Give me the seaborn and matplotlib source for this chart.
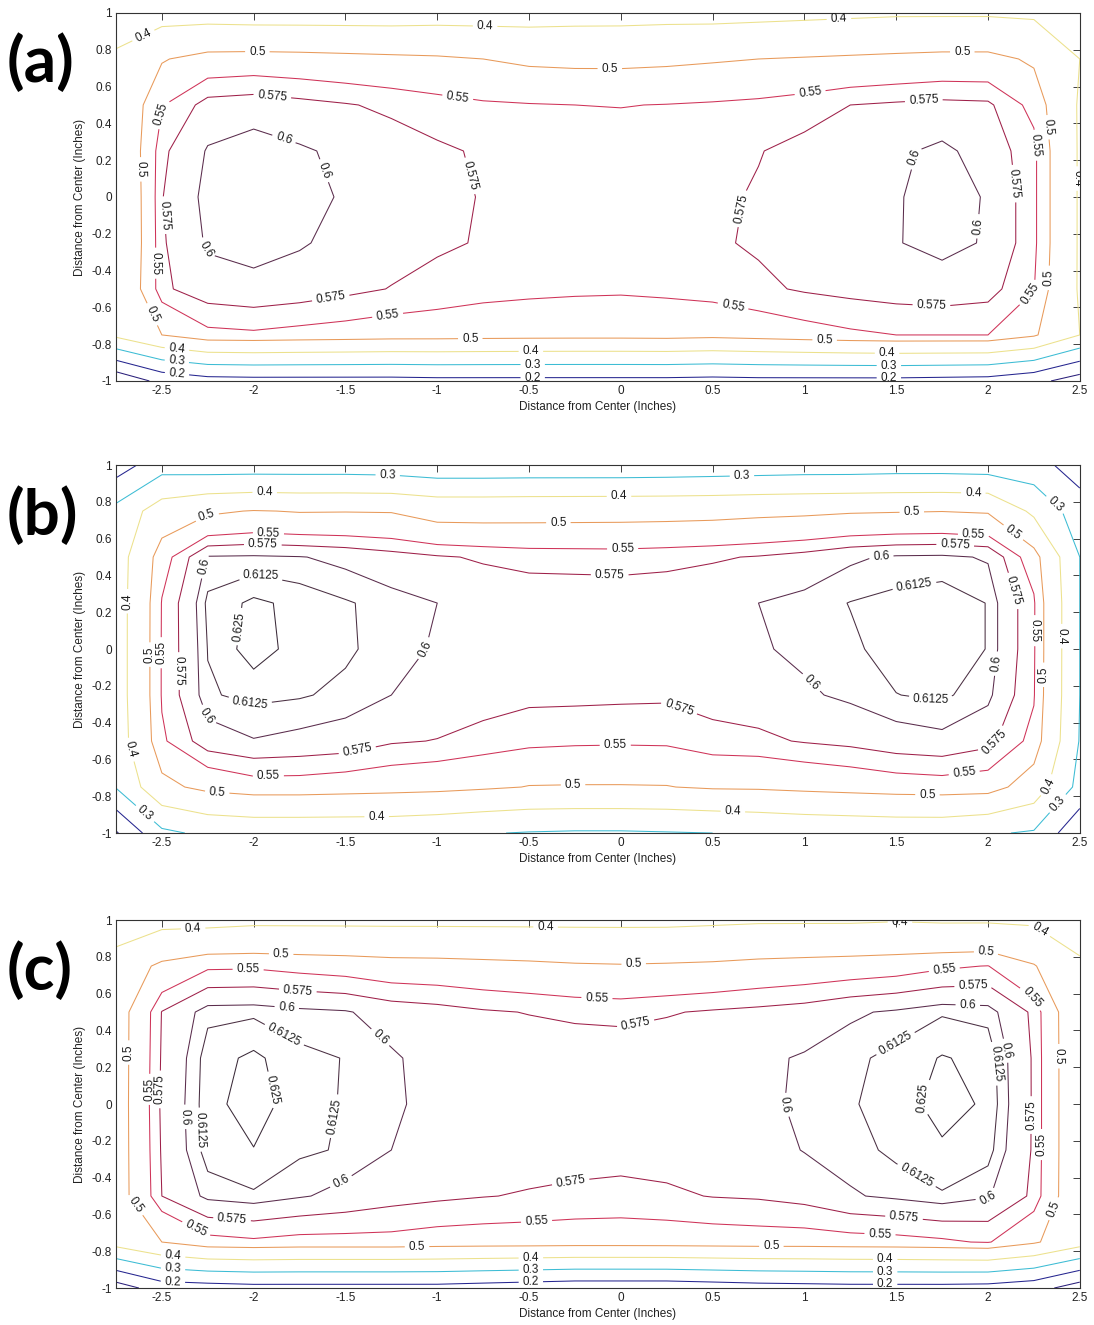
import numpy as np
import matplotlib
matplotlib.use("Agg")
import matplotlib.pyplot as plt
import seaborn as sns

# grid of measurement positions (inches)
x_in = [-2.75, -2.5, -2.25, -2.0, -1.75, -1.5, -1.25, -1.0, -0.75, -0.5, -0.25,
        0.0, 0.25, 0.5, 0.75, 1.0, 1.25, 1.5, 1.75, 2.0, 2.25, 2.5]
y_in = [1.0, 0.75, 0.5, 0.25, 0.0, -0.25, -0.5, -0.75, -1.0]

levels = [0.1, 0.2, 0.3, 0.4, 0.5, 0.55, 0.575, 0.6, 0.6125, 0.625]

# panel (a) values, rows from y=1 (top) to y=-1 (bottom)
z_a = [
    [0.33, 0.36, 0.36, 0.355, 0.355, 0.355, 0.355, 0.36, 0.36, 0.36, 0.365, 0.366, 0.37, 0.37, 0.375, 0.38, 0.385, 0.39, 0.39, 0.39, 0.385, 0.37],
    [0.42, 0.495, 0.525, 0.528, 0.525, 0.52, 0.515, 0.51, 0.50, 0.49, 0.487, 0.487, 0.49, 0.495, 0.50, 0.505, 0.51, 0.515, 0.52, 0.52, 0.49, 0.40],
    [0.43, 0.548, 0.585, 0.589, 0.583, 0.577, 0.57, 0.562, 0.555, 0.552, 0.55, 0.549, 0.551, 0.554, 0.558, 0.565, 0.575, 0.579, 0.582, 0.58, 0.54, 0.39],
    [0.42, 0.57, 0.602, 0.61, 0.603, 0.595, 0.587, 0.579, 0.572, 0.567, 0.565, 0.565, 0.566, 0.569, 0.574, 0.582, 0.589, 0.596, 0.605, 0.59, 0.56, 0.39],
    [0.41, 0.574, 0.607, 0.61, 0.609, 0.597, 0.587, 0.58, 0.574, 0.57, 0.568, 0.567, 0.568, 0.571, 0.577, 0.583, 0.59, 0.598, 0.61, 0.598, 0.56, 0.39],
    [0.41, 0.572, 0.603, 0.606, 0.602, 0.594, 0.586, 0.579, 0.573, 0.569, 0.566, 0.565, 0.567, 0.572, 0.578, 0.584, 0.59, 0.599, 0.606, 0.598, 0.56, 0.39],
    [0.42, 0.57, 0.59, 0.595, 0.59, 0.582, 0.574, 0.566, 0.56, 0.557, 0.555, 0.554, 0.556, 0.562, 0.57, 0.578, 0.583, 0.587, 0.59, 0.585, 0.552, 0.39],
    [0.42, 0.50, 0.542, 0.545, 0.54, 0.536, 0.531, 0.53, 0.527, 0.525, 0.524, 0.524, 0.526, 0.52, 0.528, 0.537, 0.545, 0.55, 0.55, 0.55, 0.51, 0.40],
    [0.02, 0.13, 0.165, 0.17, 0.17, 0.17, 0.17, 0.175, 0.175, 0.175, 0.175, 0.175, 0.175, 0.17, 0.175, 0.175, 0.175, 0.175, 0.17, 0.165, 0.13, 0.05],
]

# panel (b) values
z_b = [
    [0.15, 0.26, 0.25, 0.25, 0.25, 0.25, 0.245, 0.23, 0.23, 0.232, 0.232, 0.232, 0.235, 0.24, 0.245, 0.25, 0.25, 0.255, 0.255, 0.25, 0.24, 0.15],
    [0.33, 0.45, 0.49, 0.503, 0.497, 0.498, 0.497, 0.475, 0.475, 0.477, 0.478, 0.479, 0.48, 0.482, 0.487, 0.49, 0.495, 0.497, 0.499, 0.495, 0.38, 0.25],
    [0.35, 0.535, 0.602, 0.603, 0.601, 0.595, 0.586, 0.578, 0.572, 0.567, 0.566, 0.565, 0.568, 0.572, 0.577, 0.585, 0.597, 0.603, 0.604, 0.598, 0.53, 0.30],
    [0.35, 0.552, 0.616, 0.628, 0.621, 0.614, 0.607, 0.60, 0.592, 0.59, 0.59, 0.59, 0.59, 0.594, 0.60, 0.606, 0.613, 0.617, 0.62, 0.612, 0.555, 0.30],
    [0.35, 0.553, 0.613, 0.632, 0.619, 0.615, 0.606, 0.598, 0.592, 0.59, 0.59, 0.59, 0.59, 0.594, 0.598, 0.604, 0.61, 0.618, 0.62, 0.612, 0.555, 0.30],
    [0.35, 0.553, 0.611, 0.616, 0.614, 0.609, 0.60, 0.593, 0.585, 0.581, 0.581, 0.58, 0.579, 0.583, 0.588, 0.597, 0.604, 0.6122, 0.615, 0.605, 0.553, 0.30],
    [0.345, 0.545, 0.59, 0.599, 0.595, 0.591, 0.578, 0.574, 0.567, 0.559, 0.556, 0.555, 0.556, 0.568, 0.57, 0.577, 0.582, 0.591, 0.595, 0.583, 0.54, 0.295],
    [0.305, 0.48, 0.52, 0.535, 0.535, 0.53, 0.525, 0.52, 0.51, 0.498, 0.497, 0.497, 0.498, 0.508, 0.51, 0.518, 0.525, 0.532, 0.535, 0.531, 0.46, 0.27],
    [0.09, 0.28, 0.32, 0.33, 0.33, 0.33, 0.33, 0.32, 0.305, 0.295, 0.29, 0.29, 0.295, 0.30, 0.31, 0.32, 0.325, 0.33, 0.33, 0.31, 0.29, 0.12],
]

# panel (c) values
z_c = [
    [0.33, 0.37, 0.37, 0.38, 0.38, 0.38, 0.38, 0.38, 0.38, 0.38, 0.38, 0.38, 0.38, 0.385, 0.39, 0.39, 0.39, 0.395, 0.39, 0.39, 0.385, 0.33],
    [0.45, 0.515, 0.545, 0.546, 0.54, 0.535, 0.527, 0.525, 0.52, 0.515, 0.508, 0.505, 0.508, 0.512, 0.52, 0.525, 0.53, 0.535, 0.545, 0.551, 0.505, 0.42],
    [0.47, 0.576, 0.609, 0.61, 0.605, 0.602, 0.59, 0.585, 0.578, 0.574, 0.57, 0.568, 0.573, 0.578, 0.582, 0.587, 0.597, 0.603, 0.611, 0.608, 0.57, 0.44],
    [0.47, 0.578, 0.619, 0.628, 0.616, 0.612, 0.603, 0.591, 0.59, 0.59, 0.59, 0.59, 0.59, 0.592, 0.596, 0.602, 0.609, 0.617, 0.626, 0.621, 0.572, 0.44],
    [0.47, 0.58, 0.62, 0.632, 0.617, 0.6115, 0.604, 0.592, 0.591, 0.591, 0.592, 0.592, 0.593, 0.594, 0.596, 0.603, 0.611, 0.619, 0.63, 0.623, 0.572, 0.44],
    [0.47, 0.578, 0.619, 0.6245, 0.615, 0.611, 0.60, 0.59, 0.587, 0.586, 0.585, 0.584, 0.585, 0.588, 0.59, 0.601, 0.607, 0.616, 0.623, 0.618, 0.572, 0.44],
    [0.47, 0.575, 0.605, 0.6105, 0.602, 0.594, 0.585, 0.58, 0.576, 0.573, 0.57, 0.568, 0.571, 0.576, 0.578, 0.584, 0.598, 0.604, 0.611, 0.602, 0.57, 0.44],
    [0.44, 0.50, 0.54, 0.545, 0.54, 0.54, 0.54, 0.535, 0.533, 0.532, 0.53, 0.53, 0.531, 0.533, 0.535, 0.535, 0.538, 0.54, 0.545, 0.553, 0.51, 0.44],
    [0.05, 0.15, 0.16, 0.17, 0.17, 0.17, 0.17, 0.17, 0.16, 0.15, 0.14, 0.14, 0.14, 0.15, 0.16, 0.165, 0.17, 0.17, 0.17, 0.165, 0.14, 0.05],
]

x_ticks = [-2.5, -2.0, -1.5, -1.0, -0.5, 0.0, 0.5, 1.0, 1.5, 2.0, 2.5]
x_tick_labels = ["-2.5", "-2", "-1.5", "-1", "-0.5", "0", "0.5", "1", "1.5", "2", "2.5"]
y_ticks = [-1.0, -0.8, -0.6, -0.4, -0.2, 0.0, 0.2, 0.4, 0.6, 0.8, 1.0]
y_tick_labels = ["-1", "-0.8", "-0.6", "-0.4", "-0.2", "0", "0.2", "0.4", "0.6", "0.8", "1"]
panel_labels = ["(a)", "(b)", "(c)"]
axis_label = "Distance from Center (Inches)"

# line colour for each contour level (style)
level_colors = ["#2a1f7a", "#25258f", "#3cbcd4", "#ece18c", "#e89a5a",
                "#cf3358", "#9e2049", "#5a2c4c", "#4a2f42", "#3a2a38"]

# where the inline level labels sit (layout only)
label_pos_a = {
    0.2: [(-2.42, -0.985), (-0.48, -0.985), (1.46, -0.985)],
    0.3: [(-2.42, -0.91), (-0.48, -0.93), (1.46, -0.935)],
    0.4: [(-2.59, 0.855), (-0.74, 0.89), (1.19, 0.92), (2.49, 0.1),
          (-2.42, -0.845), (-0.49, -0.84), (1.45, -0.87)],
    0.5: [(-1.98, 0.78), (-0.06, 0.70), (1.86, 0.78), (-2.62, 0.15), (-2.6, -0.66),
          (2.34, 0.38), (2.34, -0.44), (-0.82, -0.77), (1.11, -0.79)],
    0.55: [(-2.49, 0.45), (-2.56, -0.36), (-0.89, 0.53), (1.03, 0.575), (2.25, 0.28),
           (2.26, -0.555), (-1.27, -0.645), (0.61, -0.6)],
    0.575: [(-1.9, 0.53), (-2.5, -0.10), (-0.84, 0.11), (-1.58, -0.55), (1.65, 0.53),
            (0.70, -0.07), (2.12, 0.07), (1.69, -0.63)],
    0.6: [(-1.84, 0.30), (-1.65, 0.13), (-2.3, -0.30), (1.65, 0.20), (1.95, -0.16)],
}
label_pos_b = {
    0.3: [(-1.27, 0.93), (0.66, 0.93), (2.38, 0.80), (-2.61, -0.915), (2.38, -0.84)],
    0.4: [(-1.94, 0.84), (-0.01, 0.83), (1.92, 0.84), (-2.69, 0.26), (-2.68, -0.55),
          (-1.33, -0.905), (0.61, -0.89), (2.42, 0.07), (2.35, -0.75)],
    0.5: [(-2.25, 0.715), (-0.34, 0.66), (1.585, 0.74), (2.15, 0.65), (-2.58, -0.03),
          (-2.2, -0.80), (-0.26, -0.75), (1.67, -0.81), (2.32, -0.14)],
    0.55: [(-1.92, 0.615), (0.01, 0.54), (1.92, 0.60), (-2.53, -0.02), (-1.92, -0.69),
           (-0.03, -0.55), (1.87, -0.67), (2.26, 0.10)],
    0.575: [(-1.95, 0.57), (-0.06, 0.42), (1.82, 0.54), (-2.45, -0.12), (-1.44, -0.53),
            (0.31, -0.34), (2.12, 0.31), (2.03, -0.5)],
    0.6: [(-2.23, 0.44), (-1.05, -0.01), (-2.27, -0.37), (1.42, 0.48), (1.04, -0.18),
          (2.05, -0.08)],
    0.6125: [(-1.97, 0.36), (-2.03, -0.33), (1.6, 0.34), (1.69, -0.27)],
    0.625: [(-2.06, 0.12)],
}
label_pos_c = {
    0.2: [(-2.44, -0.97), (-0.49, -0.97), (1.44, -0.97)],
    0.3: [(-2.44, -0.91), (-0.49, -0.905), (1.44, -0.92)],
    0.4: [(-2.33, 0.96), (-0.41, 0.94), (1.52, 0.98), (2.28, 0.945),
          (-2.44, -0.845), (-0.49, -0.84), (1.44, -0.86)],
    0.5: [(-1.85, 0.82), (0.07, 0.765), (1.99, 0.83), (-2.68, 0.28), (-2.65, -0.555),
          (-1.11, -0.78), (0.82, -0.78), (2.4, 0.26), (2.36, -0.57)],
    0.55: [(-2.03, 0.73), (-0.13, 0.58), (1.76, 0.75), (2.25, 0.59), (-2.58, 0.08),
           (-2.34, -0.73), (-0.46, -0.62), (1.41, -0.745), (2.3, -0.22)],
    0.575: [(-1.76, 0.61), (0.08, 0.44), (1.92, 0.63), (-2.53, 0.08), (-2.12, -0.655),
            (-0.27, -0.44), (1.54, -0.645), (2.26, -0.06)],
    0.6: [(-1.82, 0.52), (-1.35, 0.32), (-2.39, -0.07), (-1.52, -0.43), (1.89, 0.54),
          (0.88, -0.01), (2.12, 0.295), (2.0, -0.52)],
    0.6125: [(-1.82, 0.40), (-2.32, -0.14), (-1.54, -0.07), (1.49, 0.34), (2.03, 0.22),
             (1.61, -0.39)],
    0.625: [(-1.93, 0.07), (1.66, 0.03)],
}

sns.set_theme(style="white")
plt.rcParams["font.family"] = ["Liberation Sans", "DejaVu Sans"]

fig = plt.figure(figsize=(10.94, 13.25), dpi=100)
fig.patch.set_facecolor("white")

ax_bottoms = [0.7125, 0.3713, 0.0279]
label_y = [0.953, 0.611, 0.268]

for z, bot, plab, ly, lpos in zip([z_a, z_b, z_c], ax_bottoms, panel_labels, label_y,
                                 [label_pos_a, label_pos_b, label_pos_c]):
    ax = fig.add_axes([0.106, bot, 0.881, 0.2777])
    Z = np.array(z)[::-1]
    Y = np.array(y_in)[::-1]
    X = np.array(x_in)
    for lev, col in zip(levels, level_colors):
        if not (Z.min() < lev < Z.max()):
            continue
        cs = ax.contour(X, Y, Z, levels=[lev], colors=[col], linewidths=0.75)
        pts = lpos.get(lev)
        if pts:
            ax.clabel(cs, fmt="%g", fontsize=8.5, colors="k", inline=True,
                      inline_spacing=4, manual=pts)
    ax.set_xlim(-2.75, 2.5)
    ax.set_ylim(-1, 1)
    ax.set_xticks(x_ticks)
    ax.set_xticklabels(x_tick_labels)
    ax.set_yticks(y_ticks)
    ax.set_yticklabels(y_tick_labels)
    ax.tick_params(direction="in", top=True, right=True, length=5, width=0.6,
                   labelsize=8.5, pad=3, colors="#222222")
    for sp in ax.spines.values():
        sp.set_color("#333333")
        sp.set_linewidth(0.8)
    ax.set_facecolor("white")
    ax.set_xlabel(axis_label, fontsize=8.5, labelpad=3, color="#222222")
    ax.set_ylabel(axis_label, fontsize=8.5, labelpad=4, color="#222222")
    fig.text(0.006, ly, plab, fontsize=46, fontweight="bold", ha="left", va="center",
             family=["Lato", "DejaVu Sans"], color="black")

fig.savefig("out.png", dpi=100, facecolor="white")
